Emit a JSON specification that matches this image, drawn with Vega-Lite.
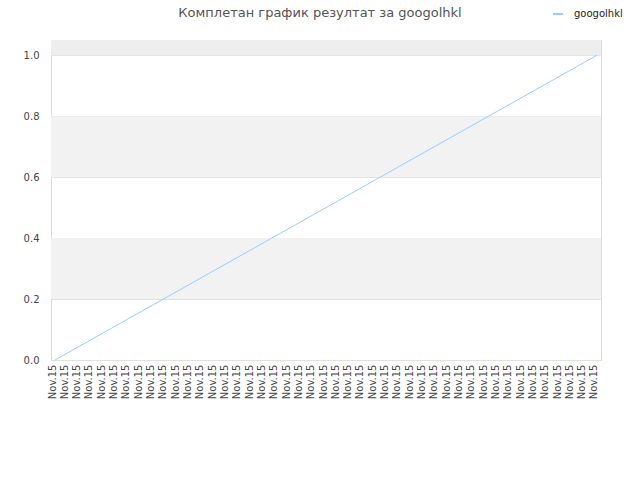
{
  "$schema": "https://vega.github.io/schema/vega-lite/v6.json",
  "autosize": "none",
  "padding": {"left": 51, "top": 40, "right": 39, "bottom": 120},
  "width": 550,
  "height": 320,
  "background": "white",
  "view": {"stroke": "#dcdcdc", "strokeWidth": 1},
  "config": {"font": "DejaVu Sans"},
  "title": {
    "text": "Комплетан график резултат за googolhkl",
    "fontSize": 13,
    "fontWeight": "normal",
    "color": "#555555",
    "anchor": "middle",
    "dx": -6,
    "dy": 12,
    "offset": 0
  },
  "datasets": {
    "bands": [
      {"lo": 0.2, "hi": 0.4, "kind": "alt"},
      {"lo": 0.6, "hi": 0.8, "kind": "alt"},
      {"lo": 1.0, "hi": 1.05, "kind": "top"}
    ],
    "scores": [
      {"i": 0, "score": 0, "user": "googolhkl"},
      {"i": 1, "score": 0.0227, "user": "googolhkl"},
      {"i": 2, "score": 0.0455, "user": "googolhkl"},
      {"i": 3, "score": 0.0682, "user": "googolhkl"},
      {"i": 4, "score": 0.0909, "user": "googolhkl"},
      {"i": 5, "score": 0.1136, "user": "googolhkl"},
      {"i": 6, "score": 0.1364, "user": "googolhkl"},
      {"i": 7, "score": 0.1591, "user": "googolhkl"},
      {"i": 8, "score": 0.1818, "user": "googolhkl"},
      {"i": 9, "score": 0.2045, "user": "googolhkl"},
      {"i": 10, "score": 0.2273, "user": "googolhkl"},
      {"i": 11, "score": 0.25, "user": "googolhkl"},
      {"i": 12, "score": 0.2727, "user": "googolhkl"},
      {"i": 13, "score": 0.2955, "user": "googolhkl"},
      {"i": 14, "score": 0.3182, "user": "googolhkl"},
      {"i": 15, "score": 0.3409, "user": "googolhkl"},
      {"i": 16, "score": 0.3636, "user": "googolhkl"},
      {"i": 17, "score": 0.3864, "user": "googolhkl"},
      {"i": 18, "score": 0.4091, "user": "googolhkl"},
      {"i": 19, "score": 0.4318, "user": "googolhkl"},
      {"i": 20, "score": 0.4545, "user": "googolhkl"},
      {"i": 21, "score": 0.4773, "user": "googolhkl"},
      {"i": 22, "score": 0.5, "user": "googolhkl"},
      {"i": 23, "score": 0.5227, "user": "googolhkl"},
      {"i": 24, "score": 0.5455, "user": "googolhkl"},
      {"i": 25, "score": 0.5682, "user": "googolhkl"},
      {"i": 26, "score": 0.5909, "user": "googolhkl"},
      {"i": 27, "score": 0.6136, "user": "googolhkl"},
      {"i": 28, "score": 0.6364, "user": "googolhkl"},
      {"i": 29, "score": 0.6591, "user": "googolhkl"},
      {"i": 30, "score": 0.6818, "user": "googolhkl"},
      {"i": 31, "score": 0.7045, "user": "googolhkl"},
      {"i": 32, "score": 0.7273, "user": "googolhkl"},
      {"i": 33, "score": 0.75, "user": "googolhkl"},
      {"i": 34, "score": 0.7727, "user": "googolhkl"},
      {"i": 35, "score": 0.7955, "user": "googolhkl"},
      {"i": 36, "score": 0.8182, "user": "googolhkl"},
      {"i": 37, "score": 0.8409, "user": "googolhkl"},
      {"i": 38, "score": 0.8636, "user": "googolhkl"},
      {"i": 39, "score": 0.8864, "user": "googolhkl"},
      {"i": 40, "score": 0.9091, "user": "googolhkl"},
      {"i": 41, "score": 0.9318, "user": "googolhkl"},
      {"i": 42, "score": 0.9545, "user": "googolhkl"},
      {"i": 43, "score": 0.9773, "user": "googolhkl"},
      {"i": 44, "score": 1.0, "user": "googolhkl"}
    ]
  },
  "layer": [
    {
      "data": {"name": "bands"},
      "mark": {"type": "rect"},
      "encoding": {
        "y": {"field": "lo", "type": "quantitative", "scale": {"domain": [0, 1.05], "nice": false}},
        "y2": {"field": "hi"},
        "fill": {
          "field": "kind",
          "type": "nominal",
          "scale": {"domain": ["alt", "top"], "range": ["#f2f2f2", "#eeeeee"]},
          "legend": null
        }
      }
    },
    {
      "data": {"name": "scores"},
      "mark": {"type": "line", "strokeWidth": 1},
      "encoding": {
        "x": {
          "field": "i",
          "type": "ordinal",
          "scale": {"type": "point", "padding": 0.325},
          "axis": {
            "title": null,
            "labelExpr": "'Nov.15'",
            "labelAngle": -90,
            "labelAlign": "right",
            "labelBaseline": "alphabetic",
            "labelFontSize": 10,
            "labelColor": "#444444",
            "labelPadding": 4,
            "ticks": false,
            "domain": false,
            "grid": false
          }
        },
        "y": {
          "field": "score",
          "type": "quantitative",
          "scale": {"domain": [0, 1.05], "nice": false},
          "axis": {
            "title": null,
            "values": [0, 0.2, 0.4, 0.6, 0.8, 1.0],
            "format": ".1f",
            "labelFontSize": 10,
            "labelColor": "#444444",
            "labelPadding": 12,
            "ticks": false,
            "domain": false,
            "grid": true,
            "gridColor": "#e0e0e0",
            "gridWidth": 1
          }
        },
        "color": {
          "field": "user",
          "type": "nominal",
          "scale": {"range": ["#99ccff"]},
          "legend": {
            "title": null,
            "orient": "none",
            "legendX": 501,
            "legendY": -32,
            "symbolType": "stroke",
            "symbolSize": 100,
            "symbolStrokeWidth": 2,
            "labelFontSize": 10,
            "labelColor": "#222222",
            "labelOffset": 10
          }
        }
      }
    }
  ]
}
